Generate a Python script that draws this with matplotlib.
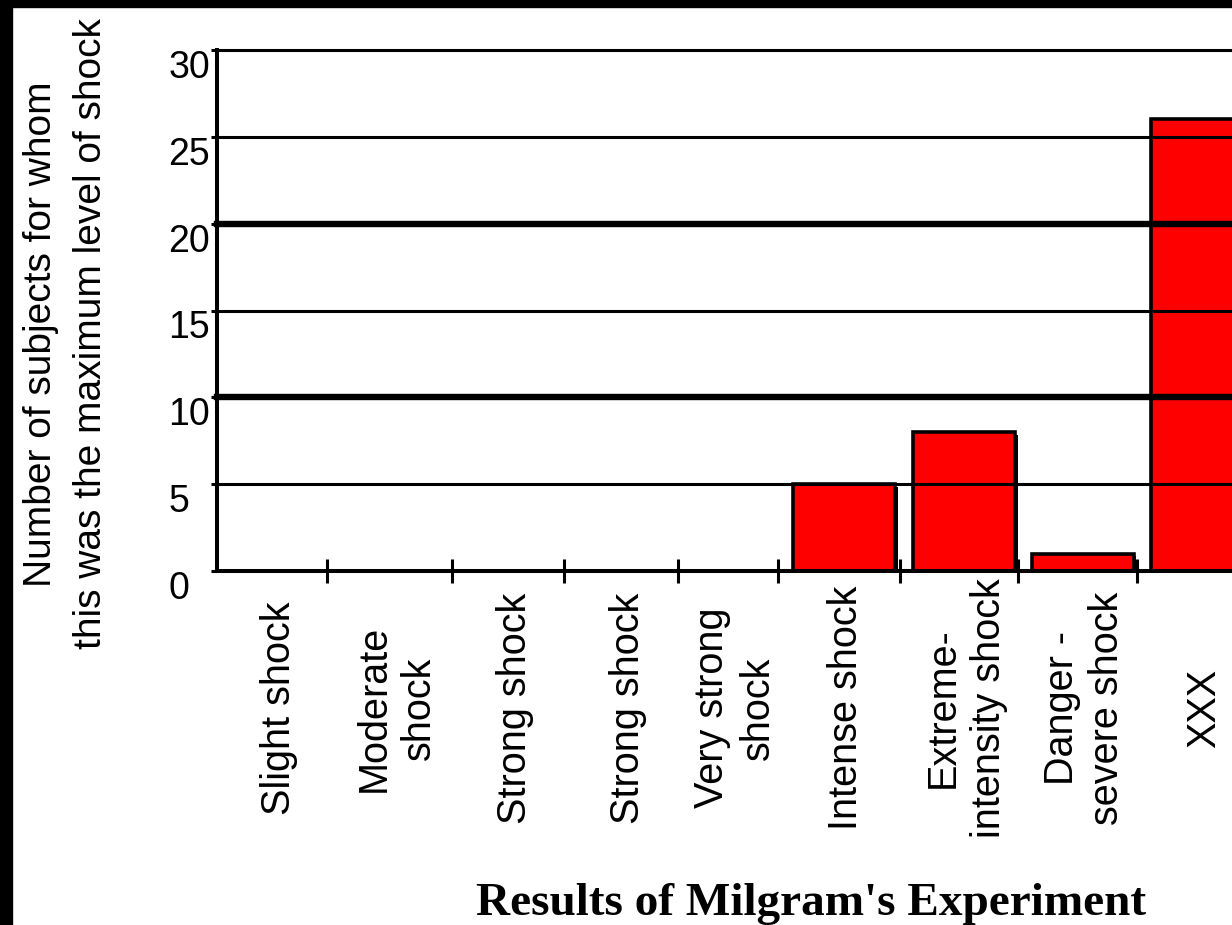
import numpy as np
import matplotlib
matplotlib.use("Agg")
import matplotlib.pyplot as plt
from matplotlib.patches import Rectangle
from matplotlib import patheffects as pe
from matplotlib.transforms import blended_transform_factory

plt.rcParams['font.family'] = ['Liberation Sans', 'DejaVu Sans']

# --- data -------------------------------------------------------------------
levels = ["Slight shock", "Moderate\nshock", "Strong shock", "Strong shock",
          "Very strong\nshock", "Intense shock", "Extreme-\nintensity shock",
          "Danger -\nsevere shock", "XXX"]
counts = [0, 0, 0, 0, 0, 5, 8, 1, 26]
y_ticks = [0, 5, 10, 15, 20, 25, 30]
y_label = "Number of subjects for whom\nthis was the maximum level of shock"
title = "Results of Milgram's Experiment"

# --- layout (pixels of the 1232x925 canvas) -----------------------------------
W_PX, H_PX = 1232, 925
AX_L, AX_BOT, AX_TOP = 217, 571, 50
slot_w = [110, 125, 112, 114, 100, 122, 118, 119, 120]   # uneven category slots
grid_lw = [2.2, 4.6, 2.2, 4.6, 2.2, 2.2]                  # lines at 5..30
BAR_W = 102

edges = np.concatenate([[0], np.cumsum(slot_w)])
centers = (edges[:-1] + edges[1:]) / 2

fig = plt.figure(figsize=(W_PX / 100, H_PX / 100), dpi=100, facecolor='white')
ax = fig.add_axes([AX_L / W_PX, 1 - AX_BOT / H_PX,
                   1 - AX_L / W_PX, (AX_BOT - AX_TOP) / H_PX])
ax.set_xlim(0, W_PX - AX_L)
ax.set_ylim(0, 30)

# bars (only non-empty categories), with a small black drop shadow
idx = [i for i, c in enumerate(counts) if c > 0]
ax.bar(centers[idx] + 5, [counts[i] for i in idx], width=BAR_W,
       color='#ff0000', edgecolor='black', linewidth=2.6, zorder=2,
       path_effects=[pe.SimplePatchShadow(offset=(2, -2), shadow_rgbFace='black',
                                          alpha=1), pe.Normal()])

# horizontal rules drawn over the bars
for y, lw in zip(y_ticks[1:], grid_lw):
    ax.axhline(y, color='black', lw=lw, zorder=3, clip_on=False)

for s in ['top', 'right']:
    ax.spines[s].set_visible(False)
for s in ['left', 'bottom']:
    ax.spines[s].set_linewidth(2.9)
    ax.spines[s].set_zorder(4)

ax.set_xticks(edges[1:-1])
ax.tick_params(axis='x', direction='inout', length=17, width=2.2,
               labelbottom=False)
ax.set_yticks(y_ticks)
ax.tick_params(axis='y', direction='out', length=4, width=2.2,
               labelsize=27, pad=31)
for lab in ax.get_yticklabels():
    lab.set_horizontalalignment('left')
    lab.set_verticalalignment('top')

# category labels, rotated, below the axis
trans = blended_transform_factory(ax.transData, fig.transFigure)
for c, lab in zip(centers, levels):
    ax.text(c + 7, 1 - 708 / H_PX, lab, rotation=90, ha='center', va='center',
            multialignment='center', fontsize=28.5, linespacing=1.25,
            transform=trans, clip_on=False)

fig.text(66 / W_PX, 1 - 334 / H_PX, y_label, rotation=90, ha='center',
         va='center', multialignment='center', fontsize=28, linespacing=1.5)

fig.text(811 / W_PX, 1 - 915 / H_PX, title, family='Liberation Serif',
         weight='bold', fontsize=34, ha='center', va='baseline')

# black border strips along top and left edges
fig.patches.append(Rectangle((0, 1 - 7 / H_PX), 1, 7 / H_PX,
                             transform=fig.transFigure, color='black'))
fig.patches.append(Rectangle((0, 0), 12 / W_PX, 1,
                             transform=fig.transFigure, color='black'))

fig.savefig('out.png', dpi=100, facecolor='white')
